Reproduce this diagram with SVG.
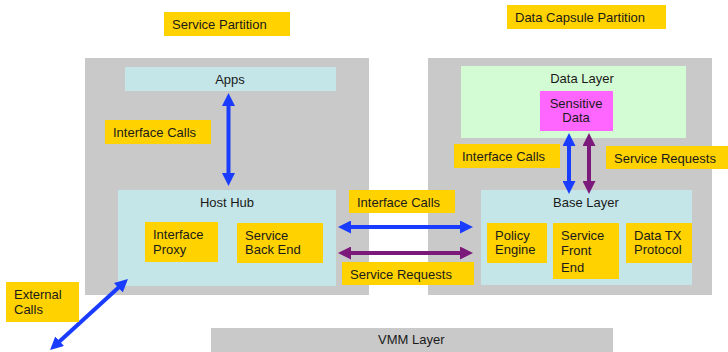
<svg xmlns="http://www.w3.org/2000/svg" width="728" height="352" viewBox="0 0 728 352">
<style>
text{font-family:"Liberation Sans",Arial,sans-serif;font-size:13px;fill:#1a1a1a}
.part{fill:#c9c9c9}
.lb{fill:#c4e6e8}
.yl{fill:#ffd200}
.grn{fill:#d4fcd4}
.mag{fill:#ff66ff}
.c{text-anchor:middle}
.blue{stroke:#1a3cff;stroke-width:4;fill:none}
.purp{stroke:#7b1a7b;stroke-width:4;fill:none}
</style>
<defs>
<marker id="ab" markerUnits="userSpaceOnUse" markerWidth="13" markerHeight="13" viewBox="0 0 13 13" refX="4" refY="6.5" orient="auto-start-reverse"><path d="M0,0 L13,6.5 L0,13 z" fill="#1a3cff"/></marker>
<marker id="ap" markerUnits="userSpaceOnUse" markerWidth="13" markerHeight="13" viewBox="0 0 13 13" refX="4" refY="6.5" orient="auto-start-reverse"><path d="M0,0 L13,6.5 L0,13 z" fill="#7b1a7b"/></marker>
</defs>
<g id="service-partition-label"><rect class="yl" x="164" y="12" width="126" height="24"/><text x="172" y="29">Service Partition</text></g>
<g id="data-capsule-partition-label"><rect class="yl" x="507" y="5" width="159" height="24"/><text x="515" y="22">Data Capsule Partition</text></g>
<g id="service-partition"><rect class="part" x="85" y="58" width="284" height="237"/></g>
<g id="data-capsule-partition"><rect class="part" x="428" y="58" width="284" height="237"/></g>
<g id="vmm-layer"><rect class="part" x="211" y="328" width="402" height="30"/><text x="378" y="344">VMM Layer</text></g>
<g id="apps"><rect class="lb" x="125" y="67" width="211" height="24"/><text class="c" x="230" y="84">Apps</text></g>
<g id="host-hub"><rect class="lb" x="118" y="190" width="218" height="96"/><text class="c" x="227" y="207">Host Hub</text></g>
<g id="interface-proxy"><rect class="yl" x="145" y="222" width="73" height="40"/><text x="153" y="239">Interface</text><text x="153" y="254">Proxy</text></g>
<g id="service-back-end"><rect class="yl" x="237" y="223" width="86" height="40"/><text x="245" y="240">Service</text><text x="245" y="254">Back End</text></g>
<g id="data-layer"><rect class="grn" x="461" y="66" width="225" height="72"/><text class="c" x="582" y="83">Data Layer</text></g>
<g id="sensitive-data"><rect class="mag" x="540" y="91" width="73" height="40"/><text class="c" x="576" y="108">Sensitive</text><text class="c" x="576" y="122">Data</text></g>
<g id="base-layer"><rect class="lb" x="481" y="190" width="211" height="95"/><text class="c" x="586" y="207">Base Layer</text></g>
<g id="policy-engine"><rect class="yl" x="487" y="223" width="60" height="40"/><text x="495" y="240">Policy</text><text x="495" y="254">Engine</text></g>
<g id="service-front-end"><rect class="yl" x="553" y="223" width="66" height="56"/><text x="561" y="240">Service</text><text x="561" y="255">Front</text><text x="561" y="272">End</text></g>
<g id="data-tx-protocol"><rect class="yl" x="626" y="223" width="66" height="40"/><text x="634" y="240">Data TX</text><text x="634" y="254">Protocol</text></g>
<g id="connectors">
<line class="blue" x1="228.5" y1="102" x2="228.5" y2="177" marker-start="url(#ab)" marker-end="url(#ab)"/>
<line class="blue" x1="347" y1="227" x2="464" y2="227" marker-start="url(#ab)" marker-end="url(#ab)"/>
<line class="purp" x1="347" y1="253" x2="464" y2="253" marker-start="url(#ap)" marker-end="url(#ap)"/>
<line class="blue" x1="569" y1="142" x2="569" y2="185" marker-start="url(#ab)" marker-end="url(#ab)"/>
<line class="purp" x1="589" y1="142" x2="589" y2="185" marker-start="url(#ap)" marker-end="url(#ap)"/>
<line class="blue" x1="121.3" y1="285.1" x2="56.7" y2="343.9" marker-start="url(#ab)" marker-end="url(#ab)"/>
</g>
<g id="label-interface-calls-left"><rect class="yl" x="105" y="120" width="106" height="24"/><text x="113" y="137">Interface Calls</text></g>
<g id="label-interface-calls-mid"><rect class="yl" x="349" y="190" width="106" height="23"/><text x="357" y="207">Interface Calls</text></g>
<g id="label-service-requests-mid"><rect class="yl" x="342" y="262" width="132" height="23"/><text x="350" y="279">Service Requests</text></g>
<g id="label-interface-calls-right"><rect class="yl" x="454" y="144" width="106" height="24"/><text x="462" y="161">Interface Calls</text></g>
<g id="label-service-requests-right"><rect class="yl" x="606" y="146" width="122" height="23"/><text x="614" y="163">Service Requests</text></g>
<g id="label-external-calls"><rect class="yl" x="6" y="282" width="73" height="40"/><text x="14" y="299">External</text><text x="14" y="314">Calls</text></g>
</svg>
